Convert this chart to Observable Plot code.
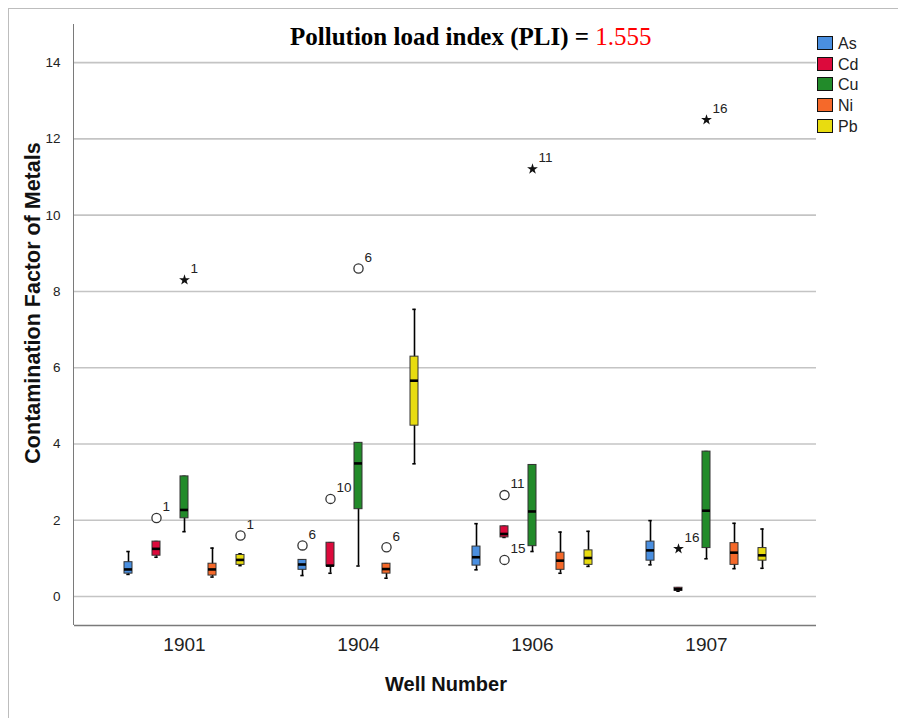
<!DOCTYPE html>
<html>
<head>
<meta charset="utf-8">
<script src="https://cdn.jsdelivr.net/npm/d3@7"></script>
<script src="https://cdn.jsdelivr.net/npm/@observablehq/plot@0.6"></script>
<style>
  html, body { margin: 0; padding: 0; background: #fff; }
  #wrap { position: relative; width: 903px; height: 718px; overflow: hidden; font-family: "Liberation Sans", Arial, sans-serif; }
  .layer { position: absolute; left: 0; top: 0; }
  .ov { position: absolute; white-space: nowrap; }
  #title { left: 290px; top: 23px; font-family: "Liberation Serif", "Times New Roman", serif; font-weight: bold; font-size: 25px; color: #000; }
  #title span { color: #ff0000; font-weight: normal; }
  #xtitle { left: 0; width: 892px; text-align: center; top: 673px; font-weight: bold; font-size: 20px; color: #111; }
  #ytitle { left: 33px; top: 303px; transform: translate(-50%, -50%) rotate(-90deg); font-weight: bold; font-size: 21.5px; color: #111; }
  #legend { left: 817px; top: 36px; }
  .lg { height: 20.7px; display: flex; align-items: flex-start; font-size: 16px; color: #222; line-height: 15px; }
  .sw { width: 14px; height: 12px; border: 1px solid #111; margin-right: 5px; }
  #borderL { left: 8px; top: 8px; width: 0; height: 720px; border-left: 1px solid #bdbdbd; }
  #borderT { left: 8px; top: 8px; width: 890px; height: 0; border-top: 1px solid #bdbdbd; }
</style>
</head>
<body>
<div id="wrap">
  <div class="layer" id="back"></div>
  <div class="layer" id="front"></div>
  <div class="ov" id="borderL"></div>
  <div class="ov" id="borderT"></div>
  <div class="ov" id="title">Pollution load index (PLI) = <span>1.555</span></div>
  <div class="ov" id="xtitle">Well Number</div>
  <div class="ov" id="ytitle">Contamination Factor of Metals</div>
  <div class="ov" id="legend"></div>
</div>
<script>
// ---- data ----
const wells = ["1901", "1904", "1906", "1907"];
const metals = ["As", "Cd", "Cu", "Ni", "Pb"];
const metalColors = ["#4a8fe0", "#dc0a3c", "#228b2a", "#f5692a", "#e8dc10"];
const yTicks = [0, 2, 4, 6, 8, 10, 12, 14];

// rows = wells, columns = metals (As, Cd, Cu, Ni, Pb)
const whiskerLow = [
  [0.58, 1.03, 1.70, 0.51, 0.81],
  [0.55, 0.61, 0.80, 0.48, 3.48],
  [0.70, 1.55, 1.18, 0.61, 0.79],
  [0.83, 0.14, 0.99, 0.73, 0.74]
];
const quartile1 = [
  [0.60, 1.07, 2.05, 0.55, 0.83],
  [0.70, 0.79, 2.29, 0.60, 4.48],
  [0.81, 1.55, 1.32, 0.70, 0.83],
  [0.94, 0.15, 1.27, 0.83, 0.94]
];
const medians = [
  [0.71, 1.25, 2.27, 0.71, 0.96],
  [0.84, 0.81, 3.49, 0.72, 5.66],
  [1.03, 1.64, 2.23, 0.94, 1.01],
  [1.21, 0.19, 2.25, 1.15, 1.08]
];
const quartile3 = [
  [0.90, 1.44, 3.15, 0.86, 1.09],
  [0.96, 1.41, 4.03, 0.86, 6.29],
  [1.31, 1.84, 3.45, 1.15, 1.21],
  [1.44, 0.23, 3.80, 1.40, 1.27]
];
const whiskerHigh = [
  [1.18, 1.44, 3.15, 1.27, 1.12],
  [0.96, 1.41, 4.03, 0.86, 7.53],
  [1.91, 1.84, 3.45, 1.69, 1.71],
  [1.99, 0.23, 3.80, 1.92, 1.77]
];
const outliers = [
  {well: "1901", metal: "Cd", value: 2.06, label: "1", kind: "circle"},
  {well: "1901", metal: "Cu", value: 8.30, label: "1", kind: "star"},
  {well: "1901", metal: "Pb", value: 1.60, label: "1", kind: "circle"},
  {well: "1904", metal: "As", value: 1.34, label: "6", kind: "circle"},
  {well: "1904", metal: "Cd", value: 2.56, label: "10", kind: "circle"},
  {well: "1904", metal: "Cu", value: 8.60, label: "6", kind: "circle"},
  {well: "1904", metal: "Ni", value: 1.29, label: "6", kind: "circle"},
  {well: "1906", metal: "Cd", value: 2.66, label: "11", kind: "circle"},
  {well: "1906", metal: "Cd", value: 0.96, label: "15", kind: "circle"},
  {well: "1906", metal: "Cu", value: 11.21, label: "11", kind: "star"},
  {well: "1907", metal: "Cd", value: 1.25, label: "16", kind: "star"},
  {well: "1907", metal: "Cu", value: 12.50, label: "16", kind: "star"}
];
const yDomain = [-0.76, 15.0];

// ---- build table ----
const stats = [];
wells.forEach((w, i) => metals.forEach((m, j) => stats.push({
  well: w, metal: m,
  lo: whiskerLow[i][j], q1: quartile1[i][j], med: medians[i][j],
  q3: quartile3[i][j], hi: whiskerHigh[i][j]
})));
const circles = outliers.filter(d => d.kind === "circle");
const stars = outliers.filter(d => d.kind === "star");

const common = {
  width: 903, height: 718,
  marginLeft: 74, marginRight: 87, marginTop: 24, marginBottom: 93,
  style: {fontFamily: "Liberation Sans, Arial, sans-serif", background: "transparent", overflow: "visible", color: "#222"}
};

// background: grid and y axis (spans the whole frame)
const back = Plot.plot({
  ...common,
  y: {domain: yDomain, axis: null},
  marks: [
    Plot.ruleY(yTicks, {y: d => d, stroke: "#c4c4c4", strokeWidth: 1.6}),
    Plot.text(yTicks, {y: d => d, text: d => String(d), frameAnchor: "left", dx: -14, textAnchor: "end", fontSize: 13.5, fill: "#222"}),
    Plot.ruleY([yDomain[0]], {stroke: "#7a7a7a", strokeWidth: 1.6})
  ]
});
document.getElementById("back").appendChild(back);

// foreground: boxplots faceted by well
const front = Plot.plot({
  ...common,
  fx: {domain: wells, paddingInner: 0, paddingOuter: 0.124, label: null, axis: null},
  x: {domain: metals, paddingInner: 0.7, paddingOuter: 0.915, axis: null},
  y: {domain: yDomain, axis: null},
  color: {domain: metals, range: metalColors},
  marks: [
    Plot.text(wells, {fx: d => d, text: d => d, frameAnchor: "bottom", dy: 25, fontSize: 19, fill: "#222"}),
    Plot.ruleX(stats, {fx: "well", x: "metal", y1: "lo", y2: "hi", stroke: "#000", strokeWidth: 1.6}),
    Plot.tickY(stats, {fx: "well", x: "metal", y: "lo", stroke: "#000", strokeWidth: 1.6, insetLeft: 2.3, insetRight: 2.3}),
    Plot.tickY(stats, {fx: "well", x: "metal", y: "hi", stroke: "#000", strokeWidth: 1.6, insetLeft: 2.3, insetRight: 2.3}),
    Plot.barY(stats, {fx: "well", x: "metal", y1: "q1", y2: "q3", fill: "metal", stroke: "#333", strokeWidth: 1}),
    Plot.tickY(stats, {fx: "well", x: "metal", y: "med", stroke: "#000", strokeWidth: 2.6}),
    Plot.dot(circles, {fx: "well", x: "metal", y: "value", r: 4.6, stroke: "#333", strokeWidth: 1.3, fill: "#fff"}),
    Plot.dot(stars, {fx: "well", x: "metal", y: "value", symbol: "star", r: 3.4, fill: "#111", stroke: "none"}),
    Plot.text(outliers, {fx: "well", x: "metal", y: "value", text: "label", dx: 6, dy: -11, textAnchor: "start", fontSize: 13.5, fill: "#222"})
  ]
});
document.getElementById("front").appendChild(front);

// left axis line (frame edge)
const axisL = document.createElement("div");
axisL.className = "ov";
Object.assign(axisL.style, {left: "73px", top: "24px", height: "601px", width: "0", borderLeft: "1.6px solid #7a7a7a"});
document.getElementById("wrap").appendChild(axisL);

// legend
const legend = document.getElementById("legend");
metals.forEach((m, i) => {
  const row = document.createElement("div");
  row.className = "lg";
  const sw = document.createElement("div");
  sw.className = "sw";
  sw.style.background = metalColors[i];
  const lab = document.createElement("span");
  lab.textContent = m;
  row.appendChild(sw);
  row.appendChild(lab);
  legend.appendChild(row);
});
</script>
</body>
</html>
